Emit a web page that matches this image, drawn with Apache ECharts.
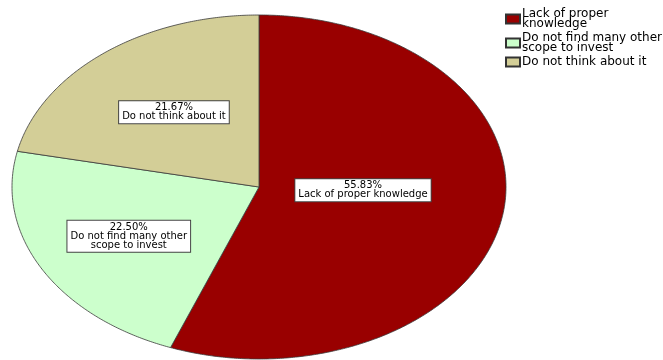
<!DOCTYPE html>
<html>
<head>
<meta charset="utf-8">
<script src="https://cdn.jsdelivr.net/npm/echarts@6/dist/echarts.min.js"></script>
<style>
  html, body { margin: 0; padding: 0; background: #fff; }
  #chart { width: 663px; height: 360px; }
</style>
</head>
<body>
<div id="chart"></div>
<script>
// Reasons for not investing (share of respondents, %)
const categories = [
  'Lack of proper knowledge',
  'Do not find many other scope to invest',
  'Do not think about it'
];
const percents = [55.83, 22.50, 21.67];
const sliceLabels = [
  'Lack of proper knowledge',
  'Do not find many other\nscope to invest',
  'Do not think about it'
];
const legendLabels = [
  'Lack of proper\nknowledge',
  'Do not find many other\nscope to invest',
  'Do not think about it'
];

const colors = ['#990000', '#CCFFCC', '#D3CE97'];

// Elliptical pie geometry
const CX = 259, CY = 187, RX = 247, RY = 172;
const labelRadius = [0.42, 0.6, 0.56];
const labelShift = [[2, -10], [0, 0], [2, 0]];

const total = percents.reduce((a, b) => a + b, 0);

function makeRenderer(idx) {
  return function (params, api) {
    let before = 0;
    for (let k = 0; k < idx; k++) before += percents[k];
    const value = api.value(0);
    const a0 = before / total * Math.PI * 2;
    const a1 = (before + value) / total * Math.PI * 2;
    const pts = [[CX, CY]];
    const steps = Math.max(8, Math.ceil((a1 - a0) / (Math.PI / 360)));
    for (let s = 0; s <= steps; s++) {
      const t = a0 + (a1 - a0) * s / steps;
      pts.push([CX + RX * Math.sin(t), CY - RY * Math.cos(t)]);
    }
    const mid = (a0 + a1) / 2;
    const f = labelRadius[idx];
    const lx = CX + RX * f * Math.sin(mid) + labelShift[idx][0];
    const ly = CY - RY * f * Math.cos(mid) + labelShift[idx][1];
    return {
      type: 'group',
      children: [
        {
          type: 'polygon',
          shape: { points: pts },
          style: { fill: colors[idx], stroke: '#3a3a3a', lineWidth: 0.8 }
        },
        {
          type: 'text',
          z2: 10,
          style: {
            x: lx,
            y: ly,
            text: value.toFixed(2) + '%\n' + sliceLabels[idx],
            align: 'center',
            verticalAlign: 'middle',
            fontFamily: 'DejaVu Sans',
            fontSize: 10,
            lineHeight: 9,
            fill: '#000',
            backgroundColor: '#fff',
            borderColor: '#444',
            borderWidth: 1,
            padding: [2, 3]
          }
        }
      ]
    };
  };
}

const chart = echarts.init(document.getElementById('chart'), null, { renderer: 'canvas' });

chart.setOption({
  animation: false,
  backgroundColor: '#fff',
  legend: {
    orient: 'vertical',
    left: 505,
    top: 8,
    padding: 0,
    itemWidth: 14,
    itemHeight: 9,
    itemGap: 2,
    icon: 'rect',
    data: categories,
    formatter: name => legendLabels[categories.indexOf(name)],
    textStyle: {
      fontFamily: 'DejaVu Sans',
      fontSize: 12,
      lineHeight: 10,
      color: '#000',
      padding: [0, 0, 0, -3]
    },
    selectedMode: false
  },
  series: categories.map((name, i) => ({
    type: 'custom',
    name: name,
    coordinateSystem: 'none',
    silent: true,
    itemStyle: { color: colors[i], borderColor: '#333', borderWidth: 1 },
    data: [[percents[i]]],
    renderItem: makeRenderer(i)
  }))
});
</script>
</body>
</html>
